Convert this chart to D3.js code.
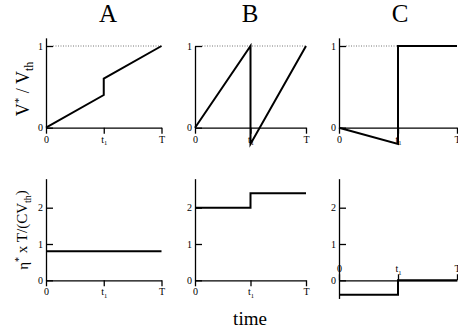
<!DOCTYPE html>
<html><head><meta charset="utf-8">
<script src="https://cdn.jsdelivr.net/npm/d3@7"></script>
<style>
body{margin:0;background:#fff}
svg{display:block}
text{font-family:"Liberation Serif","Times New Roman",serif}
</style>
</head><body>
<svg id="c" width="458" height="334"></svg>
<script>
// ---- data ----
const titles = ["A", "B", "C"];
const xTickValues = [0, 0.5, 1];
const xTickLabels = ["0", "t1", "T"];
const topYTicks = [0, 1];
const botYTicks = [0, 1, 2];

const topA_t = [0, 0.5, 0.5, 1];
const topA_v = [0, 0.4, 0.6, 1];
const topB_t = [0, 0.5, 0.5, 1];
const topB_v = [0, 1, -0.2, 1];
const topC_t = [0, 0.5, 0.5, 1];
const topC_v = [0, -0.2, 1, 1];

const botA_t = [0, 1];
const botA_v = [0.8, 0.8];
const botB_t = [0, 0.5, 0.5, 1];
const botB_v = [2, 2, 2.4, 2.4];
const botC_t = [0, 0.5, 0.5, 1];
const botC_v = [-0.4, -0.4, 0, 0];

const topExtents = [[0, 1.1], [0, 1], [0, 1.1]];
const botExtents = [[0, 2.8], [0, 2.8], [0, 2.8, -0.5]];

// ---- layout ----
const svg = d3.select("#c");
const cols = [{x0: 46, x1: 161.5}, {x0: 195, x1: 306}, {x0: 339, x1: 457}];
const rows = [{y0: 127.7, unit: 81.7}, {y0: 280.3, unit: 36.3}];
const titleX = [108, 250, 400];

titles.forEach((t, i) => {
  svg.append("text").attr("x", titleX[i]).attr("y", 21.7)
    .attr("text-anchor", "middle").attr("font-size", 25).text(t);
});

const panels = [
  {r: 0, c: 0, t: topA_t, v: topA_v, yt: topYTicks, ext: topExtents[0], dotted: true},
  {r: 0, c: 1, t: topB_t, v: topB_v, yt: topYTicks, ext: topExtents[1], dotted: true},
  {r: 0, c: 2, t: topC_t, v: topC_v, yt: topYTicks, ext: topExtents[2], dotted: true},
  {r: 1, c: 0, t: botA_t, v: botA_v, yt: botYTicks, ext: [0, 2.8]},
  {r: 1, c: 1, t: botB_t, v: botB_v, yt: botYTicks, ext: [0, 2.8]},
  {r: 1, c: 2, t: botC_t, v: botC_v, yt: botYTicks, ext: [-0.5, 2.8], topAxis: true}
];

function labelTicks(sel) {
  sel.selectAll(".tick text").each(function(d, i) {
    const lab = xTickLabels[i];
    const t = d3.select(this);
    t.text(null);
    if (lab === "t1") {
      t.append("tspan").text("t");
      t.append("tspan").attr("font-size", 6.5).attr("dy", "0.35em").text("1");
    } else {
      t.text(lab);
    }
  });
}

panels.forEach(p => {
  const col = cols[p.c], row = rows[p.r];
  const x = d3.scaleLinear().domain([0, 1]).range([col.x0, col.x1]);
  const y = d3.scaleLinear().domain(p.ext)
    .range([row.y0 - p.ext[0] * row.unit, row.y0 - p.ext[1] * row.unit]);

  // y axis
  const ya = svg.append("g").attr("transform", `translate(${col.x0},0)`)
    .call(d3.axisLeft(y).tickValues(p.yt).tickSizeInner(-7).tickSizeOuter(0)
      .tickPadding(3).tickFormat(d3.format("d")));
  // x axis
  const axisGen = p.topAxis ? d3.axisTop(x) : d3.axisBottom(x);
  const xa = svg.append("g").attr("transform", `translate(0,${y(0)})`)
    .call(axisGen.tickValues(xTickValues).tickSizeInner(6).tickSizeOuter(0).tickPadding(2));
  labelTicks(xa);
  [ya, xa].forEach(a => {
    a.selectAll("path.domain").attr("stroke-width", 1.3);
    a.selectAll(".tick line").attr("stroke-width", 1.3);
    a.selectAll("text").attr("font-size", 10).attr("fill", "#000");
  });

  if (p.dotted) {
    svg.append("line").attr("x1", col.x0 + 7).attr("x2", x(1))
      .attr("y1", y(1)).attr("y2", y(1))
      .attr("stroke", "#777").attr("stroke-width", 1).attr("stroke-dasharray", "1,1.5");
  }

  const pts = p.t.map((t, i) => [t, p.v[i]]);
  svg.append("path").datum(pts)
    .attr("d", d3.line().x(d => x(d[0])).y(d => y(d[1])))
    .attr("fill", "none").attr("stroke", "#000").attr("stroke-width", 2);
});

// axis titles
const l1 = svg.append("text").attr("transform", "translate(29,89) rotate(-90)")
  .attr("text-anchor", "middle").attr("font-size", 18);
l1.append("tspan").text("V");
l1.append("tspan").attr("font-size", 11).attr("dy", "-0.6em").text("*");
l1.append("tspan").attr("dy", "0.35em").text(" / V");
l1.append("tspan").attr("font-size", 12).attr("dy", "0.35em").text("th");

const l2 = svg.append("text").attr("transform", "translate(28,230) rotate(-90)")
  .attr("text-anchor", "middle").attr("font-size", 15);
l2.append("tspan").text("η");
l2.append("tspan").attr("font-size", 10).attr("dy", "-0.6em").text("*");
l2.append("tspan").attr("dy", "0.35em").text(" x T/(CV");
l2.append("tspan").attr("font-size", 10).attr("dy", "0.35em").text("th");
l2.append("tspan").attr("dy", "-0.3em").text(")");

svg.append("text").attr("x", 250).attr("y", 325).attr("text-anchor", "middle")
  .attr("font-size", 19).text("time");
</script>
</body></html>
